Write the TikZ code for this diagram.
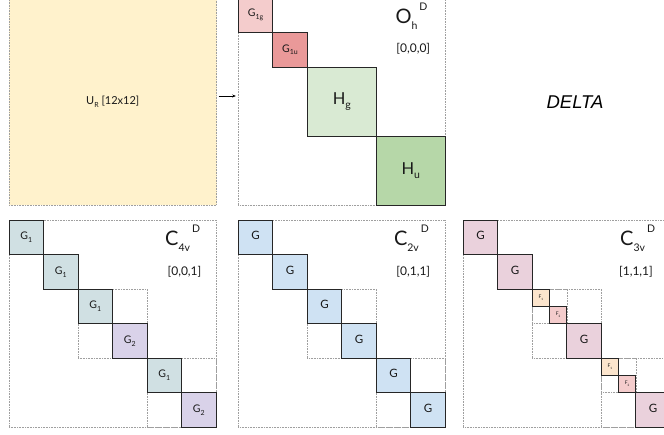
\documentclass[tikz,border=0pt]{standalone}
\usepackage{fontspec}
\setmainfont{Lato}
\newfontfamily\deltafont{Liberation Sans}
\usetikzlibrary{arrows.meta}
\definecolor{cyel}{HTML}{FFF2CC}
\definecolor{cgog}{HTML}{F4CCCC}
\definecolor{cgou}{HTML}{EA9999}
\definecolor{chg}{HTML}{D9EAD3}
\definecolor{chu}{HTML}{B6D7A8}
\definecolor{cga}{HTML}{D0E0E3}
\definecolor{cgb}{HTML}{D9D2E9}
\definecolor{cgc}{HTML}{CFE2F3}
\definecolor{cgd}{HTML}{EAD1DC}
\definecolor{cfa}{HTML}{FCE5CD}
\definecolor{cfb}{HTML}{F4CCCC}
\newcommand\lb[4]{\fontsize{#3}{#3}\selectfont #1\raisebox{-0.28em}{\fontsize{#4}{#4}\selectfont #2}}
\newcommand\ttl[2]{{\fontsize{20}{20}\selectfont #1}\raisebox{-6pt}{\fontsize{10.5}{10.5}\selectfont #2}\hspace{2pt}\raisebox{13pt}{\fontsize{10.5}{10.5}\selectfont D}}
\newcommand\veclab[1]{\fontsize{12}{12}\selectfont #1}
\tikzset{
  frm/.style={draw=gray!75, dash pattern=on 0.8pt off 0.8pt, line width=0.5pt, inner sep=0pt, outer sep=0pt, anchor=north west},
  blk/.style={draw=black!85, line width=0.7pt, inner sep=0pt, outer sep=0pt, anchor=north west, text=black!90},
  bb/.style={blk, minimum width=34.5pt, minimum height=34.5pt},
  sb/.style={blk, minimum width=17.25pt, minimum height=17.25pt},
  hb/.style={blk, minimum width=69pt, minimum height=69pt},
  fb/.style={frm, minimum width=207pt, minimum height=207pt},
  fm/.style={frm, minimum width=69pt, minimum height=69pt},
  fs/.style={frm, minimum width=34.5pt, minimum height=34.5pt},
  ttlnode/.style={anchor=base west, inner sep=0pt, text=black!90},
  vecnode/.style={anchor=base, inner sep=0pt, text=black!90},
}
\begin{document}
\begin{tikzpicture}[x=1pt,y=-1pt]
\useasboundingbox (0,0) rectangle (664,434);
\clip (0,0) rectangle (664,434);
\fill[white] (0,0) rectangle (664,434);
% U_R
\node[frm, fill=cyel, minimum width=207.5pt, minimum height=207pt, text=black!90] (U) at (9,-2) {\fontsize{11}{11}\selectfont U\raisebox{-0.3em}{\fontsize{7}{7}\selectfont R} [12x12]};
% O_h panel
\begin{scope}[shift={(238.3,-2)}]
\node[fb] (Oh) at (0,0) {};
\node[bb, fill=cgog] (oa) at (0,0) {\lb{G}{1g}{10.5}{7}};
\node[bb, fill=cgou] (ob) at (34.5,34.5) {\lb{G}{1u}{10.5}{7}};
\node[hb, fill=chg] (oc) at (69,69) {\lb{H}{g}{16.5}{10.5}};
\node[hb, fill=chu] (od) at (138,138) {\lb{H}{u}{16.5}{10.5}};
\node[ttlnode] (ot) at (157,25.3) {\ttl{O}{h}};
\node[vecnode] (ov) at (175,54.7) {\veclab{[0,0,0]}};
\end{scope}
\draw[-{Stealth[length=3.5pt,width=3pt]}, line width=0.6pt] ([xshift=2pt,yshift=5.5pt]U.east) -- ([xshift=-2.5pt,yshift=5.5pt]Oh.west);
\node[inner sep=0pt] (delta) at (575,101.7) {\deltafont\itshape\fontsize{18.5}{18.5}\selectfont DELTA};
% C4v panel
\begin{scope}[shift={(9,220)}]
\node[fb] (Ca) at (0,0) {};
\node[fm] (Caf1) at (69,69) {};
\node[fm] (Caf2) at (138,138) {};
\node[bb, fill=cga] (ca1) at (0,0) {\lb{G}{1}{10.5}{7}};
\node[bb, fill=cga] (ca2) at (34.5,34.5) {\lb{G}{1}{10.5}{7}};
\node[bb, fill=cga] (ca3) at (69,69) {\lb{G}{1}{10.5}{7}};
\node[bb, fill=cgb] (ca4) at (103.5,103.5) {\lb{G}{2}{10.5}{7}};
\node[bb, fill=cga] (ca5) at (138,138) {\lb{G}{1}{10.5}{7}};
\node[bb, fill=cgb] (ca6) at (172.5,172.5) {\lb{G}{2}{10.5}{7}};
\node[ttlnode] (cat) at (156,25) {\ttl{C}{4v}};
\node[vecnode] (cav) at (175.5,55) {\veclab{[0,0,1]}};
\end{scope}
% C2v panel
\begin{scope}[shift={(238.3,220)}]
\node[fb] (Cb) at (0,0) {};
\node[fm] (Cbf1) at (69,69) {};
\node[fm] (Cbf2) at (138,138) {};
\node[bb, fill=cgc] (cb1) at (0,0) {\lb{G}{}{11.5}{7}};
\node[bb, fill=cgc] (cb2) at (34.5,34.5) {\lb{G}{}{11.5}{7}};
\node[bb, fill=cgc] (cb3) at (69,69) {\lb{G}{}{11.5}{7}};
\node[bb, fill=cgc] (cb4) at (103.5,103.5) {\lb{G}{}{11.5}{7}};
\node[bb, fill=cgc] (cb5) at (138,138) {\lb{G}{}{11.5}{7}};
\node[bb, fill=cgc] (cb6) at (172.5,172.5) {\lb{G}{}{11.5}{7}};
\node[ttlnode] (cbt) at (155.5,25) {\ttl{C}{2v}};
\node[vecnode] (cbv) at (175,55) {\veclab{[0,1,1]}};
\end{scope}
% C3v panel
\begin{scope}[shift={(463.3,220)}]
\node[fb] (Cc) at (0,0) {};
\node[fm] (Ccf1) at (69,69) {};
\node[fs] (Ccf2) at (69,69) {};
\node[fm] (Ccf3) at (138,138) {};
\node[fs] (Ccf4) at (138,138) {};
\node[bb, fill=cgd] (cc1) at (0,0) {\lb{G}{}{11.5}{7}};
\node[bb, fill=cgd] (cc2) at (34.5,34.5) {\lb{G}{}{11.5}{7}};
\node[sb, fill=cfa] (cc3) at (69,69) {\lb{F}{1}{5}{3}};
\node[sb, fill=cfb] (cc4) at (86.25,86.25) {\lb{F}{2}{5}{3}};
\node[bb, fill=cgd] (cc5) at (103.5,103.5) {\lb{G}{}{11.5}{7}};
\node[sb, fill=cfa] (cc6) at (138,138) {\lb{F}{1}{5}{3}};
\node[sb, fill=cfb] (cc7) at (155.25,155.25) {\lb{F}{2}{5}{3}};
\node[bb, fill=cgd] (cc8) at (172.5,172.5) {\lb{G}{}{11.5}{7}};
\node[ttlnode] (cct) at (156.7,25) {\ttl{C}{3v}};
\node[vecnode] (ccv) at (172.7,55) {\veclab{[1,1,1]}};
\end{scope}
\end{tikzpicture}
\end{document}
